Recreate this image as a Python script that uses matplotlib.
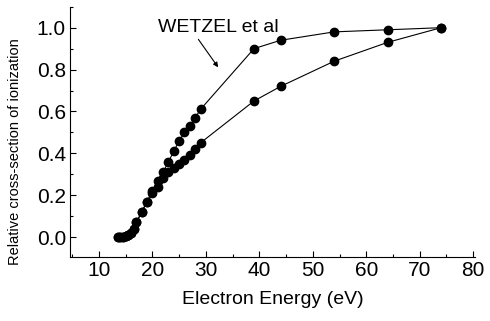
import matplotlib
matplotlib.use('Agg')
import matplotlib.pyplot as plt
from matplotlib.ticker import MultipleLocator, FormatStrFormatter

plt.rcParams['font.family'] = ['Liberation Sans', 'DejaVu Sans']

# upper curve (Wetzel et al)
energy_wetzel = [13.5, 14, 14.5, 15, 15.5, 16, 16.5, 17, 18, 19, 20, 21, 22, 23, 24,
                 25, 26, 27, 28, 29, 39, 44, 54, 64, 74]
sigma_wetzel = [0.0, 0.0, 0.0, 0.005, 0.01, 0.02, 0.04, 0.07, 0.12, 0.17, 0.22, 0.27,
                0.31, 0.36, 0.41, 0.46, 0.50, 0.53, 0.57, 0.61, 0.90, 0.94, 0.98, 0.99, 1.0]

# lower curve
energy_this = [13.5, 14, 14.5, 15, 15.5, 16, 16.5, 17, 18, 19, 20, 21, 22, 23, 24,
               25, 26, 27, 28, 29, 39, 44, 54, 64, 74]
sigma_this = [0.0, 0.0, 0.0, 0.005, 0.01, 0.02, 0.04, 0.07, 0.12, 0.17, 0.21, 0.24,
              0.28, 0.31, 0.33, 0.35, 0.37, 0.39, 0.42, 0.45, 0.65, 0.72, 0.84, 0.93, 1.0]

label_text = 'WETZEL et al'
label_pos = (21.0, 1.0)
arrow_tail = (28.3, 0.955)
arrow_head = (32.6, 0.80)

fig = plt.figure(figsize=(4.9, 3.21), dpi=100)
ax = fig.add_axes([0.143, 0.200, 0.826, 0.779])

ax.plot(energy_wetzel, sigma_wetzel, '-o', color='black', lw=0.8, ms=6)
ax.plot(energy_this, sigma_this, '-o', color='black', lw=0.8, ms=6)

ax.text(label_pos[0], label_pos[1], label_text, fontsize=14, va='center', ha='left')
ax.annotate('', xy=arrow_head, xytext=arrow_tail,
            arrowprops=dict(arrowstyle='-|>', lw=0.8, color='black', mutation_scale=7))

ax.set_xlim(4.6, 80.3)
ax.set_ylim(-0.094, 1.10)
ax.xaxis.set_major_locator(MultipleLocator(10))
ax.xaxis.set_minor_locator(MultipleLocator(5))
ax.yaxis.set_major_locator(MultipleLocator(0.2))
ax.yaxis.set_minor_locator(MultipleLocator(0.1))
ax.yaxis.set_major_formatter(FormatStrFormatter('%.1f'))

ax.spines['top'].set_visible(False)
ax.spines['right'].set_visible(False)
ax.tick_params(which='both', direction='in', labelsize=15, width=0.8)
ax.tick_params(which='major', length=4, pad=3)
ax.tick_params(which='minor', length=2)

ax.set_xlabel('Electron Energy (eV)', fontsize=14, labelpad=8)
ax.set_ylabel('Relative cross-section of ionization', fontsize=10.5)
ax.yaxis.set_label_coords(-0.118, 0.42)

plt.savefig('out.png', dpi=100)
plt.close()
